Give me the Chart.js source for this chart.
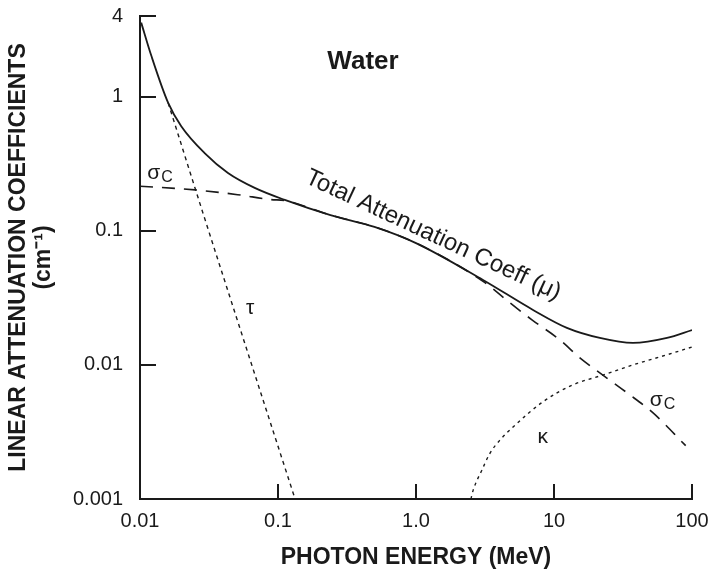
<!DOCTYPE html>
<html>
<head>
<meta charset="utf-8">
<script src="https://cdn.jsdelivr.net/npm/chart.js@4"></script>
<style>
  html, body { margin: 0; padding: 0; background: #fff; }
  #wrap { width: 710px; height: 577px; }
</style>
</head>
<body>
<div id="wrap"><canvas id="chart"></canvas></div>
<script>
// values (log-log, MeV vs cm^-1)
const xTicks = [0.01, 0.1, 1, 10, 100];
const xTickLabels = ['0.01', '0.1', '1.0', '10', '100'];
const yTicks = [0.001, 0.01, 0.1, 1, 4];
const yTickLabels = ['0.001', '0.01', '0.1', '1', '4'];

const totalE  = [0.0102, 0.0121, 0.016, 0.0199, 0.0294, 0.0434, 0.0678, 0.112, 0.24, 0.5, 1.0, 3.06, 7.05, 12.4, 21.5, 37.3, 65.9, 100];
const totalMu = [3.57, 2.01, 0.90, 0.603, 0.380, 0.270, 0.209, 0.170, 0.131, 0.107, 0.081, 0.043, 0.0257, 0.0189, 0.0159, 0.0146, 0.0159, 0.0182];

const comptonE  = [0.01, 0.025, 0.051, 0.089, 0.112, 0.24, 0.5, 1.0, 3.06, 4.8, 7.0, 11, 15.4, 22.6, 33.8, 52, 90];
const comptonMu = [0.215, 0.202, 0.186, 0.171, 0.168, 0.131, 0.107, 0.081, 0.042, 0.029, 0.0215, 0.0154, 0.0113, 0.0084, 0.0062, 0.0044, 0.0025];

const photoE  = [0.016, 0.0286, 0.05, 0.08, 0.133];
const photoMu = [0.90, 0.1355, 0.0226, 0.00504, 0.001];

const pairE  = [2.5, 2.6, 3.0, 3.44, 4.06, 5.05, 8.3, 13.7, 22.6, 37.3, 66, 100];
const pairMu = [0.001, 0.00117, 0.00164, 0.0022, 0.00275, 0.00344, 0.0053, 0.0071, 0.0084, 0.010, 0.0119, 0.0136];

const FONT = "'Liberation Sans', Arial, Helvetica, sans-serif";
const INK = '#1a1a1a';

function pts(xs, ys) {
    return xs.map((x, i) => ({ x: x, y: ys[i] }));
}

// text labels placed in data coordinates
const labels = [
    { text: 'Water', x: 0.413, y: 1.82, size: 26, bold: true },
    { text: 'Total Attenuation Coeff (\u03bc)', x: 1.33, y: 0.0927, size: 24, angle: 25 },
    { text: '\u03c3', sub: 'C', x: 0.0126, y: 0.27, size: 21 },
    { text: '\u03c3', sub: 'C', x: 55, y: 0.0055, size: 21 },
    { text: '\u03c4', x: 0.0627, y: 0.0264, size: 21 },
    { text: '\u03ba', x: 8.3, y: 0.0029, size: 21 }
];

const decor = {
    id: 'decor',
    afterDraw(chart) {
        const ctx = chart.ctx;
        const xs = chart.scales.x, ys = chart.scales.y;
        const area = chart.chartArea;
        ctx.save();
        // inward tick marks
        ctx.strokeStyle = INK;
        ctx.lineWidth = 2;
        ctx.beginPath();
        xTicks.forEach(v => {
            const px = Math.round(xs.getPixelForValue(v));
            ctx.moveTo(px, area.bottom);
            ctx.lineTo(px, area.bottom - 15);
        });
        yTicks.forEach(v => {
            const py = Math.round(ys.getPixelForValue(v));
            ctx.moveTo(area.left, py);
            ctx.lineTo(area.left + 16, py);
        });
        ctx.stroke();

        // curve labels
        ctx.fillStyle = INK;
        ctx.textAlign = 'center';
        ctx.textBaseline = 'middle';
        labels.forEach(l => {
            const px = xs.getPixelForValue(l.x);
            const py = ys.getPixelForValue(l.y);
            ctx.save();
            ctx.translate(px, py);
            if (l.angle) ctx.rotate(l.angle * Math.PI / 180);
            ctx.font = (l.bold ? 'bold ' : '') + l.size + 'px ' + FONT;
            ctx.fillText(l.text, 0, 0);
            if (l.sub) {
                const w = ctx.measureText(l.text).width;
                ctx.font = Math.round(l.size * 0.78) + 'px ' + FONT;
                ctx.textAlign = 'left';
                ctx.fillText(l.sub, w / 2 + 1, 5);
            }
            ctx.restore();
        });
        ctx.restore();
    }
};

const lineDefaults = {
    showLine: true,
    pointRadius: 0,
    borderColor: INK,
    borderWidth: 1.6,
    cubicInterpolationMode: 'monotone',
    fill: false
};

new Chart(document.getElementById('chart'), {
    type: 'scatter',
    data: {
        datasets: [
            Object.assign({}, lineDefaults, { label: 'sigma_c', data: pts(comptonE, comptonMu), borderDash: [13, 9] }),
            Object.assign({}, lineDefaults, { label: 'tau', data: pts(photoE, photoMu), borderDash: [4, 4], borderWidth: 1.4 }),
            Object.assign({}, lineDefaults, { label: 'kappa', data: pts(pairE, pairMu), borderDash: [3, 4], borderWidth: 1.4 }),
            Object.assign({}, lineDefaults, { label: 'total', data: pts(totalE, totalMu), borderWidth: 1.8 })
        ]
    },
    options: {
        responsive: true,
        maintainAspectRatio: false,
        animation: false,
        layout: { padding: { left: 0, right: 18, top: 16, bottom: 0 } },
        plugins: {
            legend: { display: false },
            tooltip: { enabled: false }
        },
        scales: {
            x: {
                type: 'logarithmic',
                min: 0.01,
                max: 100,
                afterBuildTicks: s => { s.ticks = xTicks.map(v => ({ value: v })); },
                afterFit: s => { s.height = 78; s.paddingLeft = 0; s.paddingRight = 0; },
                grid: { drawOnChartArea: false, drawTicks: false },
                border: { display: true, color: INK, width: 2 },
                ticks: {
                    color: INK,
                    padding: 10,
                    maxRotation: 0,
                    autoSkip: false,
                    font: { family: FONT, size: 20 },
                    callback: (v, i) => xTickLabels[i]
                },
                title: {
                    display: true,
                    text: 'PHOTON ENERGY (MeV)',
                    color: INK,
                    padding: { top: 0, bottom: 7 },
                    font: { family: FONT, size: 23, weight: 'bold', lineHeight: 1.1 }
                }
            },
            y: {
                type: 'logarithmic',
                min: 0.001,
                max: 4,
                afterBuildTicks: s => { s.ticks = yTicks.map(v => ({ value: v })); },
                afterFit: s => { s.width = 140; s.paddingTop = 0; s.paddingBottom = 0; },
                grid: { drawOnChartArea: false, drawTicks: false },
                border: { display: true, color: INK, width: 2 },
                ticks: {
                    color: INK,
                    padding: 17,
                    autoSkip: false,
                    font: { family: FONT, size: 20 },
                    callback: (v, i) => yTickLabels[i]
                },
                title: {
                    display: true,
                    text: ['LINEAR ATTENUATION COEFFICIENTS', '(cm\u207b\u00b9)'],
                    color: INK,
                    padding: { top: 6, bottom: 0 },
                    font: { family: FONT, size: 23, weight: 'bold', lineHeight: 1.1 }
                }
            }
        }
    },
    plugins: [decor]
});
</script>
</body>
</html>
